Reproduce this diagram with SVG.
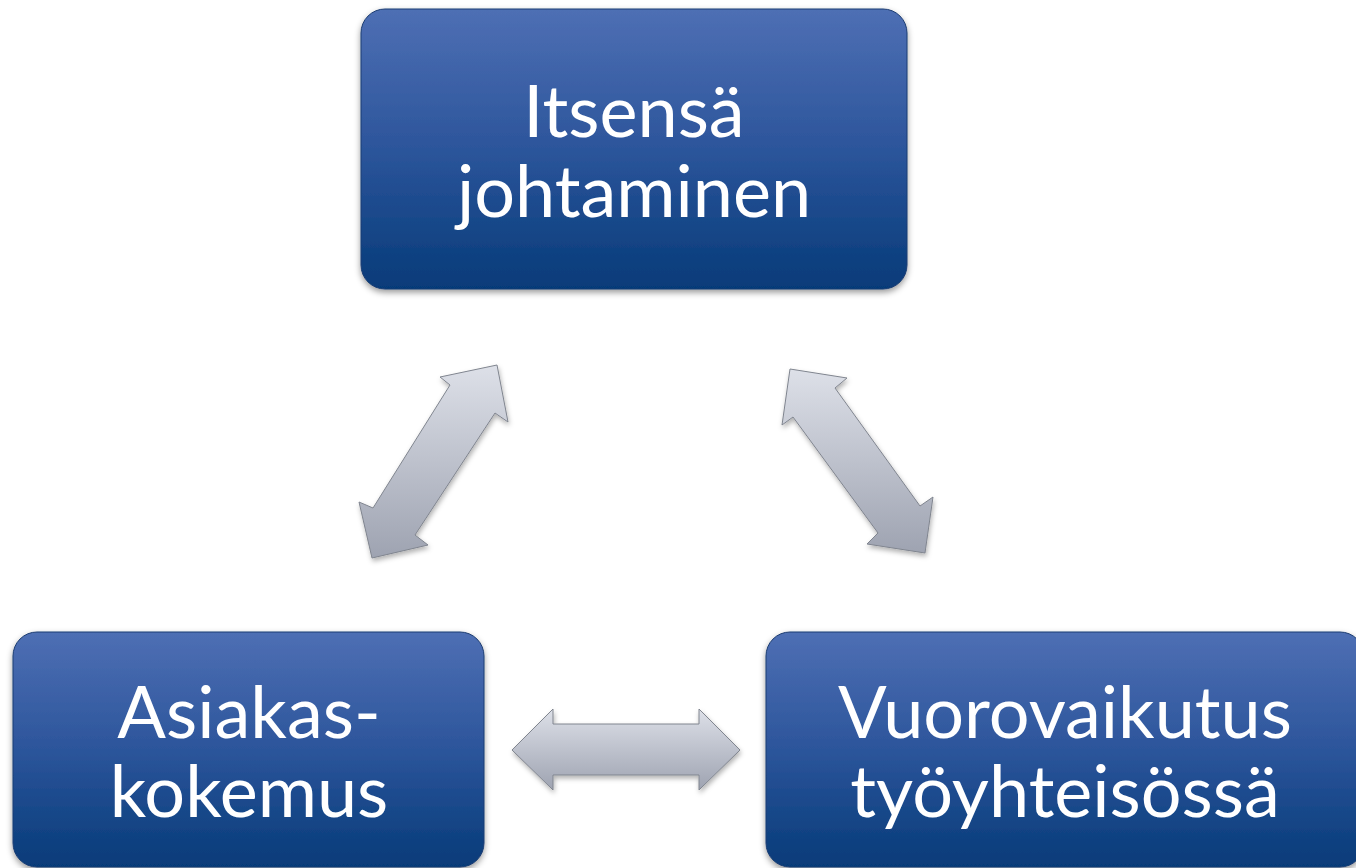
<svg xmlns="http://www.w3.org/2000/svg" width="1356" height="868" viewBox="0 0 1356 868">
  <defs>
    <linearGradient id="boxFill" x1="0" y1="0" x2="0" y2="1">
      <stop offset="0" stop-color="#4e6fb4"/>
      <stop offset="0.5" stop-color="#2c559b"/>
      <stop offset="1" stop-color="#063b79"/>
    </linearGradient>
    <linearGradient id="arrowFill" x1="0" y1="0" x2="0" y2="1">
      <stop offset="0" stop-color="#dde0e8"/>
      <stop offset="1" stop-color="#9ea3b1"/>
    </linearGradient>
    <filter id="shadow" x="-10%" y="-10%" width="120%" height="130%">
      <feDropShadow dx="0" dy="3" stdDeviation="3" flood-color="#000" flood-opacity="0.4"/>
    </filter>
    <filter id="arrowShadow" x="-20%" y="-20%" width="140%" height="140%">
      <feDropShadow dx="1" dy="3" stdDeviation="2.5" flood-color="#000" flood-opacity="0.3"/>
    </filter>
  </defs>
  <style>
    .box { fill: url(#boxFill); stroke: #1c3d72; stroke-width: 1; filter: url(#shadow); }
    .label { font-family: Lato, "Open Sans", sans-serif; font-size: 72px; fill: #ffffff; text-anchor: middle; }
    .arrow { fill: url(#arrowFill); stroke: #80858f; stroke-width: 1; filter: url(#arrowShadow); }
  </style>
  <rect width="1356" height="868" fill="#ffffff"/>

  <!-- connectors: double-headed block arrows -->
  <g id="connectors">
    <polygon class="arrow" points="497,365 508,422 495,413 415,535 428,545 372,558 359,502 373,508 450,385 440,377"/>
    <polygon class="arrow" points="790,369 847,378 835,388 920,506 933,497 925,553 867,544 878,533 793,417 782,425"/>
    <polygon class="arrow" points="512,750 553,709 553,724 699,724 699,709 740,750 699,790 699,775 553,775 553,790"/>
  </g>

  <g id="node-itsensa">
    <rect class="box" x="361" y="9" width="546" height="280" rx="24"/>
    <text class="label" x="634" y="137">Itsensä</text>
    <text class="label" x="634" y="217">johtaminen</text>
  </g>

  <g id="node-asiakas">
    <rect class="box" x="13" y="632" width="471" height="235" rx="24"/>
    <text class="label" x="249" y="738">Asiakas-</text>
    <text class="label" x="249" y="817">kokemus</text>
  </g>

  <g id="node-vuorovaikutus">
    <rect class="box" x="766" y="632" width="598" height="235" rx="24"/>
    <text class="label" x="1065" y="738">Vuorovaikutus</text>
    <text class="label" x="1065" y="817">työyhteisössä</text>
  </g>
</svg>
